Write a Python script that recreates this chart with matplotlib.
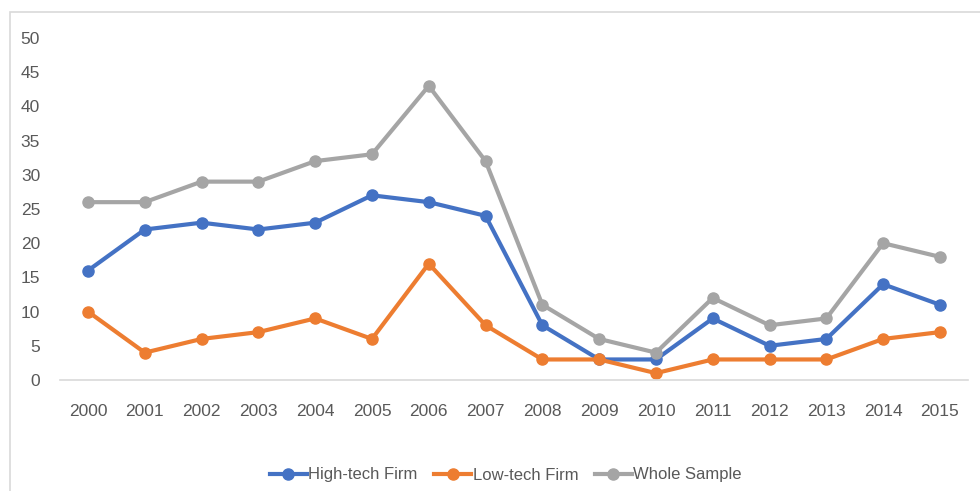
import matplotlib.pyplot as plt
from matplotlib.patches import Rectangle

years = [str(y) for y in range(2000, 2016)]
high_tech = [16, 22, 23, 22, 23, 27, 26, 24, 8, 3, 3, 9, 5, 6, 14, 11]
low_tech = [10, 4, 6, 7, 9, 6, 17, 8, 3, 3, 1, 3, 3, 3, 6, 7]
whole = [26, 26, 29, 29, 32, 33, 43, 32, 11, 6, 4, 12, 8, 9, 20, 18]

plt.rcParams['font.family'] = ['Liberation Sans', 'DejaVu Sans']
txt = '#595959'

fig = plt.figure(figsize=(9.8, 4.91), dpi=100)
ax = fig.add_axes([0.0608, 0.2261, 0.9273, 0.6965])

# chart frame
fig.patches.append(Rectangle((0.0102, -0.1), 2, 1.0756, transform=fig.transFigure,
                             fill=False, edgecolor='#d9d9d9', linewidth=1.2))

x = range(len(years))
ax.plot(x, high_tech, color='#4472C4', lw=3.0, marker='o', ms=8, label='High-tech Firm')
ax.plot(x, low_tech, color='#ED7D31', lw=3.0, marker='o', ms=8, label='Low-tech Firm')
ax.plot(x, whole, color='#A5A5A5', lw=3.0, marker='o', ms=8, label='Whole Sample')

ax.set_xlim(-0.5, len(years) - 0.5)
ax.set_ylim(0, 50)
ax.set_yticks(range(0, 51, 5))
ax.set_xticks(list(x))
ax.set_xticklabels(years)

for s in ['top', 'right', 'left']:
    ax.spines[s].set_visible(False)
ax.spines['bottom'].set_color('#d9d9d9')
ax.spines['bottom'].set_linewidth(1.2)
ax.tick_params(axis='both', length=0, labelsize=12.5, colors=txt)
ax.tick_params(axis='x', pad=17)
ax.tick_params(axis='y', pad=14)

ax.legend(loc='center', bbox_to_anchor=(506 / 980, 1 - 475 / 491), bbox_transform=fig.transFigure,
          ncol=3, frameon=False, fontsize=12, labelcolor=txt, handlelength=2.2,
          handletextpad=0.1, columnspacing=1.0)

fig.savefig('out.png', dpi=100)
